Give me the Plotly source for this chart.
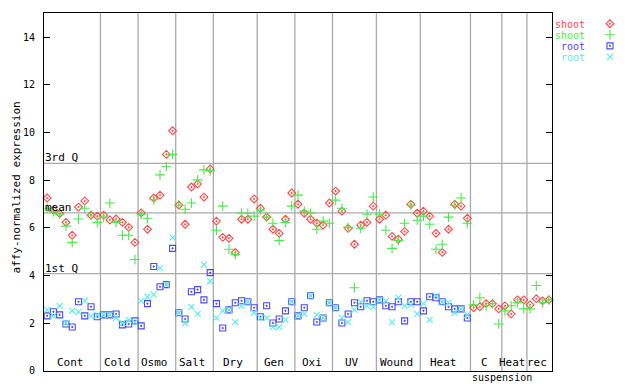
import plotly.graph_objects as go

W, H = 640, 384
OFF = 8          # page body margin offset in the browser
VS = 392 / 384   # vertical capture scale observed

# ---- data ----
groups = ["Cont", "Cold", "Osmo", "Salt", "Dry", "Gen", "Oxi", "UV", "Wound", "Heat", "C", "Heat", "rec"]
counts = [9, 6, 6, 6, 7, 6, 6, 7, 7, 8, 5, 4, 4]

shoot1 = [7.25, 6.75, 6.60, 6.23, 5.69, 6.87, 7.13, 6.53, 6.49,
          6.53, 6.33, 6.37, 6.23, 6.02, 5.39,
          6.63, 5.94, 7.25, 7.37, 9.08, 10.07,
          6.95, 6.15, 7.71, 7.84, 7.29, 8.47,
          6.28, 5.60, 5.56, 4.97, 6.36, 6.36, 7.21,
          6.82, 6.45, 5.94, 5.77, 6.36, 7.46,
          6.99, 6.61, 6.36, 6.19, 6.11, 7.04,
          7.54, 6.70, 5.98, 5.31, 6.11, 6.23, 6.91,
          6.36, 6.53, 5.64, 5.52, 5.85, 6.99, 6.61,
          6.70, 6.49, 5.77, 4.97, 5.94, 6.99, 6.91, 6.40,
          2.65, 2.69, 2.82, 2.82, 2.60,
          2.73, 2.39, 2.98, 2.98,
          2.77, 3.03, 2.94, 2.98]

shoot2 = [6.82, 6.67, 6.57, 6.07, 5.39, 6.37, 6.82, 6.53, 6.23,
          6.45, 7.04, 6.23, 5.69, 5.69, 4.67,
          6.57, 6.40, 7.18, 8.22, 8.56, 9.08,
          6.95, 6.78, 7.04, 8.01, 8.43, 8.39,
          5.90, 6.91, 5.10, 4.88, 6.61, 6.61, 6.49,
          6.74, 6.45, 6.19, 5.47, 6.23, 6.91,
          7.37, 6.70, 6.61, 5.94, 6.28, 6.19,
          7.16, 6.82, 6.02, 3.49, 5.98, 6.57, 7.29,
          6.57, 5.90, 5.14, 5.47, 6.19, 6.95, 6.32,
          6.49, 6.15, 5.10, 5.31, 6.45, 6.95, 7.25, 6.19,
          2.77, 3.07, 2.73, 2.82, 1.97,
          2.52, 2.73, 2.86, 2.60,
          2.60, 3.58, 2.86, 2.98]

root1 = [2.31, 2.48, 2.35, 1.97, 1.84, 2.90, 2.31, 2.69, 2.27,
         2.35, 2.35, 2.39, 1.93, 1.97, 2.10,
         1.89, 2.82, 4.38, 3.53, 3.62, 5.14,
         2.44, 2.18, 3.32, 3.41, 2.98, 4.12,
         2.82, 1.80, 2.56, 2.86, 2.94, 2.90, 2.65,
         2.27, 2.73, 2.01, 2.18, 2.52, 2.90,
         2.31, 2.65, 3.15, 2.05, 2.22, 2.86,
         2.65, 2.01, 2.39, 2.86, 2.69, 2.94, 2.90,
         2.98, 2.73, 2.69, 2.90, 2.10, 2.90, 2.90,
         2.52, 3.11, 3.07, 2.90, 2.69, 2.60, 2.60, 2.22]

root2 = [2.56, 2.31, 2.73, 2.01, 2.52, 2.48, 2.94, 2.31, 2.35,
         2.35, 2.35, 2.22, 2.01, 2.14, 2.05,
         2.94, 3.11, 3.20, 4.31, 3.62, 5.60,
         2.44, 2.01, 2.69, 2.39, 4.46, 3.76,
         2.22, 2.52, 2.56, 2.05, 2.73, 2.90, 2.44,
         2.22, 2.22, 1.84, 1.84, 2.14, 2.90,
         2.31, 2.39, 3.15, 2.35, 2.22, 2.86,
         2.65, 2.22, 2.05, 2.56, 2.90, 2.73, 2.69,
         2.98, 2.94, 2.05, 3.07, 2.73, 2.77, 2.39,
         2.82, 2.14, 3.15, 2.90, 2.86, 2.44, 2.60, 2.35]

stats_names = ["3rd Q", "mean", "1st Q"]
stats_values = [8.70, 6.63, 4.08]

legend_names = ["shoot", "shoot", "root", "root"]
colors = ["#ff4848", "#44ee44", "#4848f0", "#55eeee"]
symbols = ["diamond-open-dot", "cross-thin-open", "square-open-dot", "x-thin-open"]
sizes = [6, 7, 6, 6]

yticks = [0, 2, 4, 6, 8, 10, 12, 14]

FONT = "DejaVu Sans Mono"
GRID = "#aaaaaa"


def px_x(p):
    return (p - OFF) / W


def px_y(p):
    return 1 - (p * VS - OFF) / H


n = len(shoot1)
xs = list(range(n))
series = [shoot1, shoot2, root1, root2]

fig = go.Figure()
for s, c, sym, sz, nm in zip(series, colors, symbols, sizes, legend_names):
    fig.add_trace(go.Scatter(
        x=xs[:len(s)], y=s, mode="markers", name=nm, showlegend=False,
        marker=dict(symbol=sym, color=c, size=sz, line=dict(color=c, width=1.1)),
        cliponaxis=False,
    ))

# legend markers on a small auxiliary axis
for k, (c, sym, sz) in enumerate(zip(colors, symbols, sizes)):
    fig.add_trace(go.Scatter(
        x=[0.5], y=[len(colors) - k - 0.5], mode="markers", showlegend=False,
        xaxis="x2", yaxis="y2",
        marker=dict(symbol=sym, color=c, size=sz, line=dict(color=c, width=1.1)),
    ))

shapes = []
annotations = []

# group separators and labels
start = 0
for gi, (g, cnt) in enumerate(zip(groups, counts)):
    end = start + cnt
    if gi < len(groups) - 1:
        shapes.append(dict(type="line", xref="x", yref="y domain", x0=end - 0.5, x1=end - 0.5,
                           y0=0, y1=1, line=dict(color=GRID, width=1.3), layer="below"))
    annotations.append(dict(xref="x", yref="y domain", x=(start + end - 1) / 2, y=0,
                            xanchor="center", yanchor="bottom", yshift=0, xshift=-2,
                            text=g, showarrow=False, font=dict(family=FONT, size=11, color="black")))
    if g == "C":
        annotations.append(dict(xref="x", yref="y domain", x=(start + end - 1) / 2 + 2.5, y=0,
                                xanchor="center", yanchor="top", yshift=1,
                                text="suspension", showarrow=False,
                                font=dict(family=FONT, size=10, color="black")))
    start = end

# stat lines
for nm, v in zip(stats_names, stats_values):
    shapes.append(dict(type="line", xref="x domain", yref="y", x0=0, x1=1, y0=v, y1=v,
                       line=dict(color=GRID, width=1.3), layer="below"))
    annotations.append(dict(xref="x domain", yref="y", x=0, y=v, xanchor="left", yanchor="bottom",
                            yshift=-3, xshift=-1, text=nm, showarrow=False,
                            font=dict(family=FONT, size=11, color="black")))

# legend text
for k, (nm, c) in enumerate(zip(legend_names, colors)):
    annotations.append(dict(xref="paper", yref="paper", x=px_x(587), y=px_y(24 + 11 * k),
                            xanchor="right", yanchor="middle", text=nm, showarrow=False,
                            font=dict(family=FONT, size=10, color=c)))

# y axis title
annotations.append(dict(xref="paper", yref="paper", x=0, y=px_y(187), textangle=-90,
                        xanchor="left", yanchor="middle", text="affy-normalized expression",
                        showarrow=False, font=dict(family=FONT, size=11, color="black")))

fig.update_layout(
    width=W, height=H,
    margin=dict(l=0, r=0, t=0, b=0),
    paper_bgcolor="white", plot_bgcolor="white",
    shapes=shapes, annotations=annotations,
    xaxis=dict(domain=[px_x(44), px_x(552)], range=[-0.5, n - 0.5], showgrid=False, zeroline=False,
               showticklabels=False, ticks="", showline=True, linecolor="black", linewidth=1,
               mirror=True, fixedrange=True),
    yaxis=dict(domain=[px_y(369), px_y(13)], range=[0, 15], showgrid=False, zeroline=False,
               tickvals=yticks, ticks="inside", ticklen=6, tickcolor="black",
               showline=True, linecolor="black", linewidth=1, mirror="ticks",
               ticklabelstandoff=6,
               tickfont=dict(family=FONT, size=10, color="black"), fixedrange=True),
    xaxis2=dict(domain=[px_x(600), px_x(620)], range=[0, 1], visible=False, anchor="y2"),
    yaxis2=dict(domain=[px_y(62), px_y(18)], range=[0, 4], visible=False, anchor="x2"),
    showlegend=False,
)

fig.write_html("out.html")
